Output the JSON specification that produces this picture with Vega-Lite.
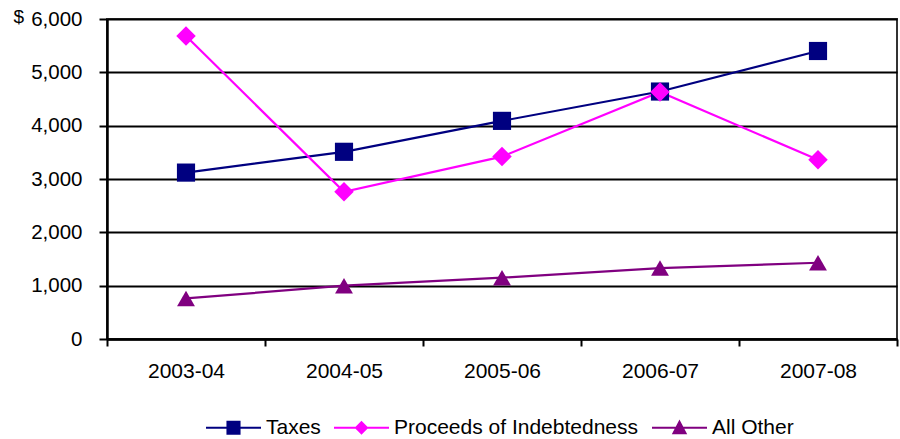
{
  "$schema": "https://vega.github.io/schema/vega-lite/v6.json",
  "width": 790,
  "height": 320,
  "autosize": {"type": "none"},
  "padding": {"left": 107, "top": 19, "right": 3, "bottom": 100},
  "background": "white",
  "config": {
    "font": "Liberation Sans",
    "view": {"stroke": "#333333", "strokeWidth": 2},
    "axis": {"labelFont": "Liberation Sans", "labelColor": "#000000"}
  },
  "data": {
    "values": [
      {"year": "2003-04", "series": "Taxes", "value": 3120},
      {"year": "2004-05", "series": "Taxes", "value": 3510},
      {"year": "2005-06", "series": "Taxes", "value": 4090},
      {"year": "2006-07", "series": "Taxes", "value": 4640},
      {"year": "2007-08", "series": "Taxes", "value": 5400},
      {"year": "2003-04", "series": "Proceeds of Indebtedness", "value": 5680},
      {"year": "2004-05", "series": "Proceeds of Indebtedness", "value": 2760},
      {"year": "2005-06", "series": "Proceeds of Indebtedness", "value": 3420},
      {"year": "2006-07", "series": "Proceeds of Indebtedness", "value": 4630},
      {"year": "2007-08", "series": "Proceeds of Indebtedness", "value": 3360},
      {"year": "2003-04", "series": "All Other", "value": 760},
      {"year": "2004-05", "series": "All Other", "value": 1000},
      {"year": "2005-06", "series": "All Other", "value": 1150},
      {"year": "2006-07", "series": "All Other", "value": 1330},
      {"year": "2007-08", "series": "All Other", "value": 1430}
    ]
  },
  "encoding": {
    "x": {
      "field": "year",
      "type": "nominal",
      "bandPosition": 0.5,
      "scale": {"type": "band", "paddingInner": 0, "paddingOuter": 0},
      "axis": {
        "title": null,
        "labelAngle": 0,
        "labelFontSize": 21,
        "labelPadding": 14,
        "tickBand": "extent",
        "tickSize": 7,
        "tickWidth": 2,
        "tickColor": "#000000",
        "domainColor": "#000000",
        "domainWidth": 2.5,
        "grid": false
      }
    },
    "y": {
      "field": "value",
      "type": "quantitative",
      "scale": {"domain": [0, 6000], "nice": false},
      "axis": {
        "values": [0, 1000, 2000, 3000, 4000, 5000, 6000],
        "format": ",.0f",
        "labelFontSize": 20.5,
        "labelPadding": 17,
        "tickSize": 8,
        "tickWidth": 2,
        "tickColor": "#000000",
        "domainColor": "#000000",
        "domainWidth": 2.5,
        "grid": true,
        "gridColor": "#000000",
        "gridWidth": 2,
        "title": "$",
        "titleAngle": 0,
        "titleFontSize": 19,
        "titleFontWeight": "normal",
        "titleAlign": "left",
        "titleBaseline": "alphabetic",
        "titleX": -94,
        "titleY": 3,
        "titleColor": "#000000"
      }
    },
    "color": {
      "field": "series",
      "type": "nominal",
      "scale": {
        "domain": ["Taxes", "Proceeds of Indebtedness", "All Other"],
        "range": ["#000080", "#FF00FF", "#800080"]
      },
      "legend": {
        "title": null,
        "orient": "none",
        "direction": "horizontal",
        "legendX": 98,
        "legendY": 380,
        "symbolSize": 3025,
        "symbolStrokeWidth": 2,
        "symbolOpacity": 1,
        "labelFontSize": 21,
        "labelLimit": 400,
        "labelColor": "#000000",
        "labelOffset": 4,
        "columnPadding": 9,
        "padding": 0,
        "encode": {
          "symbols": {
            "update": {
              "shape": {"signal": "datum.value === 'Taxes' ? 'M-1,0H1M-0.22,-0.22H0.22V0.22H-0.22Z' : datum.value === 'All Other' ? 'M-1,0H1M0,-0.22L0.22,0.2H-0.22Z' : 'M-1,0H1M0,-0.2L0.2,0L0,0.2L-0.2,0Z'"},
              "fill": {"signal": "scale('color', datum.value)"},
              "stroke": {"signal": "scale('color', datum.value)"},
              "strokeWidth": {"value": 2},
              "opacity": {"value": 1}
            }
          }
        }
      }
    }
  },
  "layer": [
    {
      "mark": {"type": "line", "strokeWidth": 2.2},
      "encoding": {"detail": {"field": "series"}}
    },
    {
      "transform": [{"filter": "datum.series === 'Taxes'"}],
      "mark": {"type": "point", "shape": "square", "filled": true, "opacity": 1, "size": 330}
    },
    {
      "transform": [{"filter": "datum.series === 'Proceeds of Indebtedness'"}],
      "mark": {"type": "point", "shape": "diamond", "filled": true, "opacity": 1, "size": 380}
    },
    {
      "transform": [{"filter": "datum.series === 'All Other'"}],
      "mark": {"type": "point", "shape": "triangle-up", "filled": true, "opacity": 1, "size": 320}
    }
  ]
}
